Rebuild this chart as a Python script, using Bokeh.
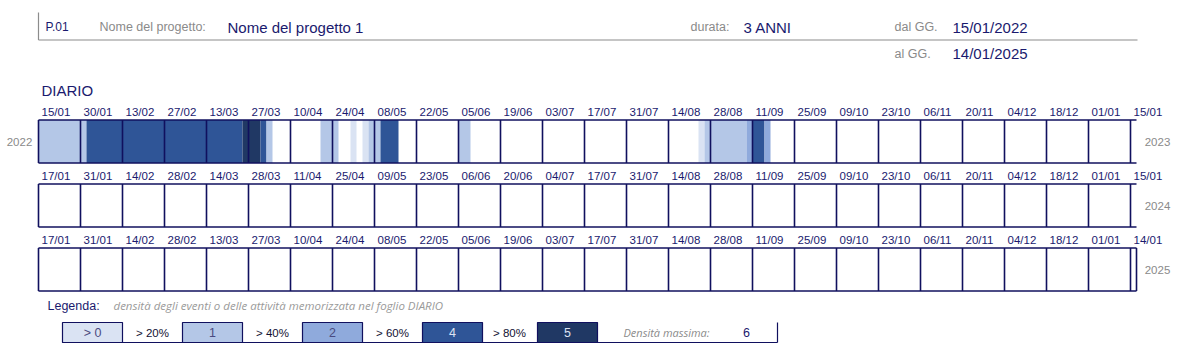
import datetime as dt
from bokeh.plotting import figure
from bokeh.models import Range1d
from bokeh.core.properties import value
from bokeh.embed import file_html
from bokeh.resources import INLINE

# ---------------- data ----------------
project_code = "P.01"
project_label = "Nome del progetto:"
project_name = "Nome del progetto 1"
duration_label = "durata:"
duration = "3 ANNI"
from_label = "dal GG."
date_from = "15/01/2022"
to_label = "al GG."
date_to = "14/01/2025"
section_title = "DIARIO"

row_starts = ["2022-01-15", "2023-01-15", "2024-01-15"]
row_lengths = [365, 365, 366]
year_left = ["2022", "", ""]
year_right = ["2023", "2024", "2025"]

ticks_row1 = ["15/01", "30/01", "13/02", "27/02", "13/03", "27/03", "10/04", "24/04", "08/05",
              "22/05", "05/06", "19/06", "03/07", "17/07", "31/07", "14/08", "28/08", "11/09",
              "25/09", "09/10", "23/10", "06/11", "20/11", "04/12", "18/12", "01/01", "15/01"]
ticks_row2 = ["17/01", "31/01", "14/02", "28/02", "14/03", "28/03", "11/04", "25/04", "09/05",
              "23/05", "06/06", "20/06", "04/07", "17/07", "31/07", "14/08", "28/08", "11/09",
              "25/09", "09/10", "23/10", "06/11", "20/11", "04/12", "18/12", "01/01", "15/01"]
ticks_row3 = ["17/01", "31/01", "14/02", "28/02", "13/03", "27/03", "10/04", "24/04", "08/05",
              "22/05", "05/06", "19/06", "03/07", "17/07", "31/07", "14/08", "28/08", "11/09",
              "25/09", "09/10", "23/10", "06/11", "20/11", "04/12", "18/12", "01/01", "14/01"]

# diary events: start date, number of days, density (events per day)
event_start = ["2022-01-15", "2022-01-31", "2022-03-24", "2022-03-26", "2022-03-30",
               "2022-04-01", "2022-04-19", "2022-04-29", "2022-05-03", "2022-05-05",
               "2022-05-09", "2022-06-04", "2022-08-23", "2022-08-25", "2022-09-08",
               "2022-09-10", "2022-09-14"]
event_days = [16, 52, 2, 4, 2, 2, 6, 2, 2, 4, 6, 4, 2, 14, 2, 4, 2]
event_density = [2, 4, 5, 6, 4, 2, 2, 1, 1, 2, 4, 2, 1, 2, 3, 4, 3]
max_density = 6

legend_box_labels = ["> 0", "1", "2", "4", "5"]
legend_gap_labels = ["> 20%", "> 40%", "> 60%", "> 80%"]
legend_thresholds = [0.0, 0.2, 0.4, 0.6, 0.8]
palette = ["#dae3f3", "#b4c7e7", "#8faadc", "#2f5597", "#203864"]
legend_title = "Legenda:"
legend_note = "densità degli eventi o delle attività memorizzata nel foglio DIARIO"
max_label = "Densità massima:"

# ---------------- styling ----------------
NAVY = "#10105e"
TXT = "#1a1a6e"
GREY = "#8a8a8a"
FONT = "Liberation Sans"
W, H = 1179, 351
X0, DPX = 38.0, 3.0          # grid left edge (px) and pixels per day
ROW_TOP0, ROW_PITCH, ROW_H = 119.5, 64.0, 43.0


def X(px):
    return (px - X0) / DPX


p = figure(width=W, height=H, output_backend="svg", toolbar_location=None,
           x_range=Range1d(X(0), X(W)), y_range=Range1d(H, 0),
           x_axis_location=None, y_axis_location=None, min_border=0)
p.outline_line_color = None
p.xgrid.visible = False
p.ygrid.visible = False
p.background_fill_color = "white"


def txt(x, y, s, size, color=TXT, align="left", style="normal", font=FONT):
    p.text(x=[x], y=[y], text=[s], text_font=value(font), text_font_size=f"{size}px",
           text_color=color, text_align=align, text_baseline="middle", text_font_style=style)


# ---------------- header ----------------
p.segment(x0=[X(38)], y0=[12], x1=[X(38)], y1=[39.5], line_color="#8c8c8c", line_width=1.2)
p.segment(x0=[X(38)], y0=[39.5], x1=[X(1137)], y1=[39.5], line_color="#8c8c8c", line_width=1.2)
txt(X(45), 26.5, project_code, 12)
txt(X(99), 26.5, project_label, 12.5, GREY)
txt(X(227), 26.5, project_name, 15)
txt(X(690), 26.5, duration_label, 12.5, GREY)
txt(X(743), 26.5, duration, 15)
txt(X(894), 26.5, from_label, 12.5, GREY)
txt(X(952), 26.5, date_from, 15)
txt(X(894), 53, to_label, 12.5, GREY)
txt(X(952), 53, date_to, 15)
txt(X(41), 90, section_title, 15)

# ---------------- diary cells ----------------
starts = [dt.date.fromisoformat(s) for s in row_starts]


def colour(d):
    r = d / max_density
    c = palette[0]
    for t, col in zip(legend_thresholds, palette):
        if r > t:
            c = col
    return c


left, right, top, bottom, fill = [], [], [], [], []
for s, n, d in zip(event_start, event_days, event_density):
    day = dt.date.fromisoformat(s)
    for r, rs in enumerate(starts):
        off = (day - rs).days
        if 0 <= off < row_lengths[r]:
            left.append(off)
            right.append(off + n)
            t = ROW_TOP0 + r * ROW_PITCH
            top.append(t)
            bottom.append(t + ROW_H)
            fill.append(colour(d))
p.quad(left=left, right=right, top=top, bottom=bottom, fill_color=fill, line_color=None)

# ---------------- grid borders & labels ----------------
tick_rows = [ticks_row1, ticks_row2, ticks_row3]
for r in range(3):
    t = ROW_TOP0 + r * ROW_PITCH
    b = t + ROW_H
    xs = list(range(0, 365, 14))
    if row_lengths[r] > 365:
        xs.append(row_lengths[r])
    p.segment(x0=xs, y0=[t] * len(xs), x1=xs, y1=[b] * len(xs), line_color=NAVY, line_width=1.6)
    p.segment(x0=[0, 0], y0=[t, b], x1=[366, 366], y1=[t, b], line_color=NAVY, line_width=1.6)
    labs = tick_rows[r]
    p.text(x=[14 * i + 1 for i in range(len(labs))], y=[t - 8] * len(labs), text=labs,
           text_font=value(FONT), text_font_size="11.5px", text_color=TXT,
           text_align="left", text_baseline="middle")
    if year_left[r]:
        txt(X(19), t + ROW_H / 2, year_left[r], 11.5, GREY, "center")
    txt(X(1157), t + ROW_H / 2, year_right[r], 11.5, GREY, "center")

# ---------------- legend ----------------
txt(X(47), 305, legend_title, 12.5)
txt(X(113), 305, legend_note, 11.5, "#9a9a9a", style="italic", font="Open Sans")
box_px = [62, 182, 302, 422, 537]
gap_cx = [152, 272, 392, 509]
LT, LB = 322, 342
p.quad(left=[X(b) for b in box_px], right=[X(b + 60) for b in box_px],
       top=[LT] * 5, bottom=[LB] * 5, fill_color=palette, line_color=NAVY, line_width=1.2)
p.segment(x0=[X(62)], y0=[LB], x1=[X(777)], y1=[LB], line_color=NAVY, line_width=1.2)
p.segment(x0=[X(777)], y0=[LT], x1=[X(777)], y1=[LB], line_color=NAVY, line_width=1.2)
for i, (b, lab) in enumerate(zip(box_px, legend_box_labels)):
    txt(X(b + 30), 332, lab, 12.5, "#4a4a80" if i < 3 else "#dde3f3", "center")
for cx, lab in zip(gap_cx, legend_gap_labels):
    txt(X(cx), 332, lab, 11.5, "#111133", "center")
txt(X(623), 332, max_label, 11, "#8a8a8a", style="italic", font="Open Sans")
txt(X(746), 332, str(max_density), 12.5, TXT, "center")

open("out.html", "w").write(file_html(p, INLINE))
